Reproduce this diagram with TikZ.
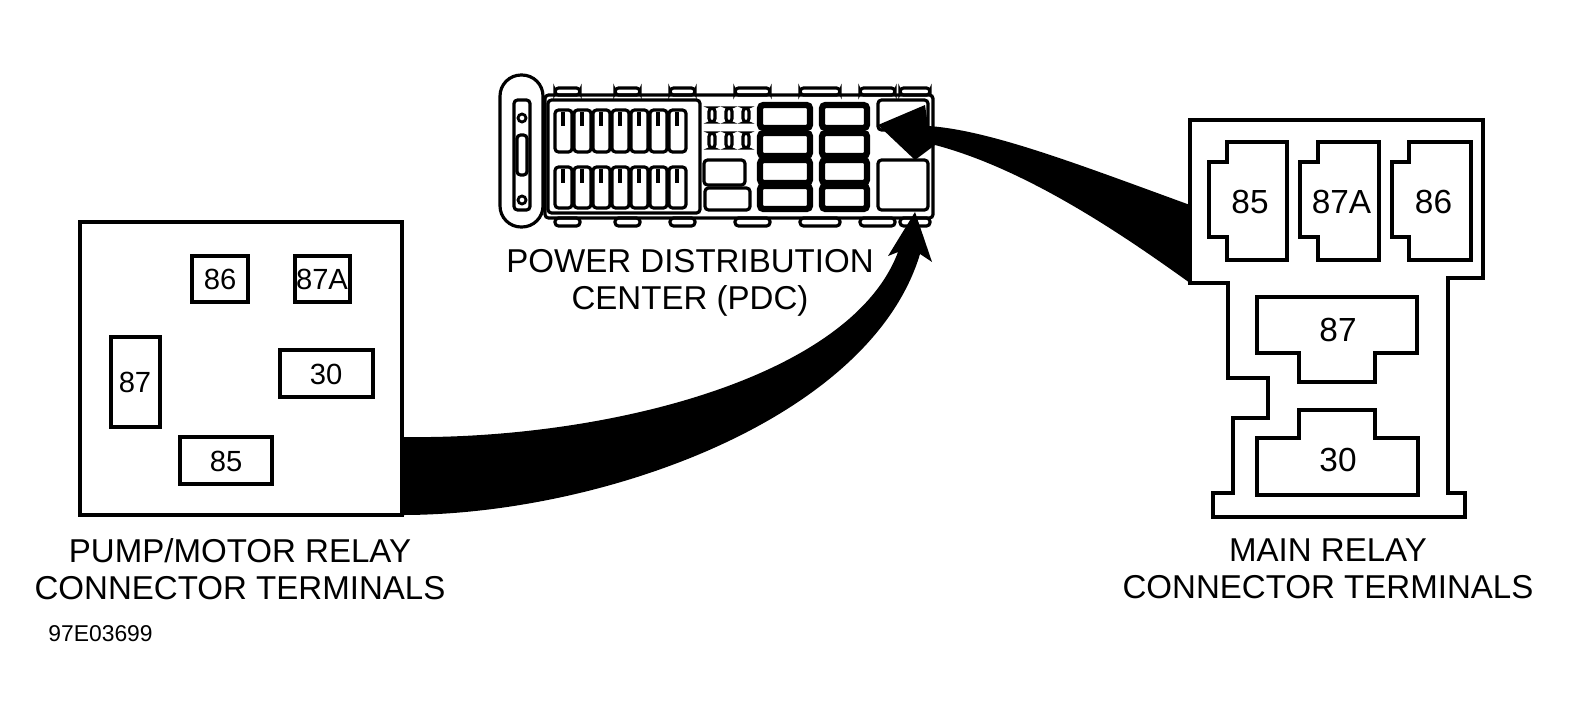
\documentclass[tikz,border=0pt]{standalone}
\usepackage{fontspec}
\setmainfont{Liberation Sans}
\usepackage{tikz}
\usetikzlibrary{calc}
\newcommand{\mkbox}[4]{\draw[line width=0.9pt] (#1,#2) rectangle (#3,#4);}
\tikzset{lbl/.style={font=\fontsize{9.4}{10.5}\selectfont,align=center},
         pin/.style={font=\fontsize{8.3}{9}\selectfont,inner sep=0pt},
         pdc/.style={line width=0.9pt,rounded corners=1pt}}

\begin{document}
\begin{tikzpicture}[x=0.01cm,y=-0.01cm]
    \useasboundingbox (0,0) rectangle (1580,721);
    %pump/motor relay
    \mkbox{80}{222}{402}{515}
    \mkbox{192}{256}{248}{302} \node[pin] (p86) at (220,279) {86};
    \mkbox{295}{256}{350}{302} \node[pin] (p87a) at (322,279) {87A};
    \mkbox{111}{337}{160}{427} \node[pin] (p87) at (135,382) {87};
    \mkbox{280}{350}{373}{397} \node[pin] (p30) at (326,374) {30};
    \mkbox{180}{437}{272}{484} \node[pin] (p85) at (226,461) {85};
    \node[lbl] (plbl) at (240,569) {PUMP/MOTOR RELAY\\CONNECTOR TERMINALS};
    %main relay
    \draw[line width=0.9pt] (1190,120) -- (1483,120) -- (1483,278) -- (1448,278) -- (1448,493) -- (1465,493)
        -- (1465,517) -- (1213,517) -- (1213,493) -- (1233,493) -- (1233,418) -- (1268,418) -- (1268,378)
        -- (1228,378) -- (1228,283) -- (1190,283) -- cycle;
    \foreach \xa/\xb/\xn/\t in {1209/1227/1287/85, 1300/1318/1379/87A, 1392/1409/1471/86} {
        \draw[line width=0.9pt] (\xb,142) -- (\xn,142) -- (\xn,260) -- (\xb,260) -- (\xb,237) -- (\xa,237) -- (\xa,162) -- (\xb,162) -- cycle;
        \node[pin,font=\fontsize{9.5}{10}\selectfont] (m\t) at ({(\xa+\xn)/2+2},202) {\t};}
    \draw[line width=0.9pt] (1257,297) -- (1417,297) -- (1417,353) -- (1375,353) -- (1375,382) -- (1299,382) -- (1299,353) -- (1257,353) -- cycle;
    \node[pin,font=\fontsize{9.5}{10}\selectfont] (m87) at (1338,330) {87};
    \draw[line width=0.9pt] (1299,410) -- (1375,410) -- (1375,438) -- (1418,438) -- (1418,495) -- (1257,495) -- (1257,438) -- (1299,438) -- cycle;
    \node[pin,font=\fontsize{9.5}{10}\selectfont] (m30) at (1338,460) {30};
    \node[lbl] (mlbl) at (1328,569) {MAIN RELAY\\CONNECTOR TERMINALS};
    %pdc
    \draw[pdc,rounded corners=6pt] (500,75) -- (543,75) -- (543,227) -- (500,227) -- cycle;
    \draw[pdc] (514,100) rectangle (530,210);
    \draw[pdc] (517,135) rectangle (527,175);
    \draw[line width=0.8pt] (522,118) circle (4);  \draw[line width=0.8pt] (522,200) circle (4);
    \draw[pdc] (545,95) rectangle (933,218);
    \draw[pdc] (548,100) rectangle (700,213);
    \foreach \i in {0,...,6} {
        \draw[pdc] ($(555+\i*19,110)$) rectangle ($(572+\i*19,152)$);
        \draw[pdc] ($(555+\i*19,167)$) rectangle ($(572+\i*19,208)$);
        \draw[line width=1.2pt] ($(563+\i*19,112)$) -- ($(563+\i*19,126)$);
        \draw[line width=1.2pt] ($(563+\i*19,169)$) -- ($(563+\i*19,183)$);}
    \foreach \i in {0,1,2} {
        \draw[pdc] ($(709+\i*17,108)$) rectangle ($(715+\i*17,122)$);
        \draw[pdc] ($(709+\i*17,133)$) rectangle ($(715+\i*17,148)$);}
    \draw[pdc] (704,160) rectangle (745,185);  \draw[pdc] (705,188) rectangle (750,210);
    \foreach \x/\w in {760/50, 822/45} {
        \foreach \y in {105,133,160,186} {
            \draw[line width=1.8pt,rounded corners=1pt] (\x,\y) rectangle ($(\x+\w,\y+23)$);}}
    \draw[pdc] (878,100) rectangle (928,130);  \draw[pdc] (878,160) rectangle (928,210);
    \foreach \x/\w in {555/25, 615/25, 670/25, 735/35, 800/40, 860/35, 900/30} {
        \draw[pdc] (\x,88) rectangle ($(\x+\w,95)$);
        \draw[pdc] (\x,218) rectangle ($(\x+\w,226)$);}
    \node[lbl] (pdclbl) at (690,283) {POWER DISTRIBUTION\\CENTER (PDC)};
    %arrows
    \fill (402,437) .. controls (600,440) and (850,380) .. (898,252) -- (888,256) -- (915,212)
        -- (932,262) -- (920,254) .. controls (870,420) and (600,515) .. (402,515) -- cycle;
    \fill (1190,205) .. controls (1080,165) and (990,130) .. (928,126) -- (925,105) -- (878,125)
        -- (915,160) -- (935,145) .. controls (1030,170) and (1130,240) .. (1190,283) -- cycle;
    \node[font=\fontsize{6.5}{7}\selectfont,anchor=west] (fig) at (36,634) {97E03699};
\end{tikzpicture}
\end{document}
